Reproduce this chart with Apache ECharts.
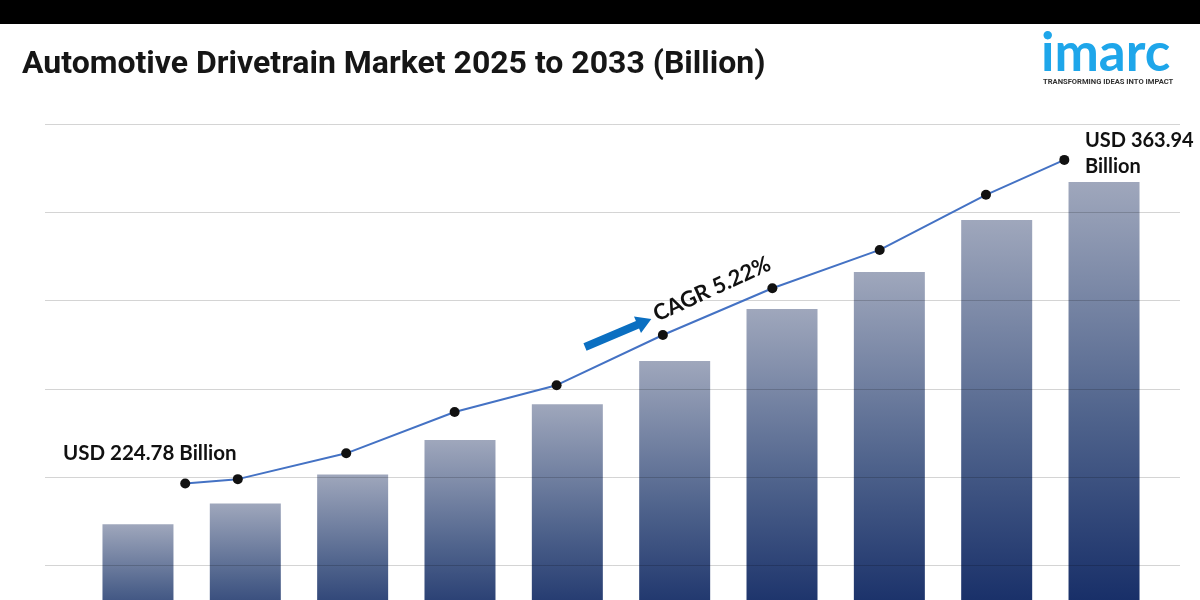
<!DOCTYPE html>
<html>
<head>
<meta charset="utf-8">
<script src="https://cdn.jsdelivr.net/npm/echarts@6/dist/echarts.min.js"></script>
<style>
html, body { margin: 0; padding: 0; background: #fff; }
#chart { width: 1200px; height: 600px; }
</style>
</head>
<body>
<div id="chart"></div>
<script>
// market size by year (billion USD)
const years = ["2024", "2025", "2026", "2027", "2028", "2029", "2030", "2031", "2032", "2033"];
const barValues = [224.78, 233.2, 245.0, 259.0, 273.6, 291.1, 312.3, 327.3, 348.5, 363.94];

// trend line drawn above the bars (x in year-index units)
const lineX = [0.44, 0.93, 1.94, 2.95, 3.9, 4.89, 5.91, 6.91, 7.9, 8.63];
const lineValues = [241.3, 243.1, 253.6, 270.4, 281.3, 301.7, 320.7, 336.3, 358.7, 372.9];

const startLabel = "USD 224.78 Billion";
const endLabel = ["USD 363.94", "Billion"];
const cagrLabel = "CAGR 5.22%";

let myChart = echarts.init(document.getElementById("chart"));

const lineData = lineX.map((x, i) => [x, lineValues[i]]);

var option = {
  backgroundColor: "#fff",
  animation: false,
  grid: [
    // grid lines only
    { left: 45, right: 20, top: 124, bottom: -54, outerBoundsMode: "none" },
    // bars + trend line
    { left: 84.3, right: 42.3, top: 124, bottom: -54, outerBoundsMode: "none" }
  ],
  xAxis: [
    { gridIndex: 0, type: "value", min: 0, max: 1, show: false },
    {
      gridIndex: 1,
      type: "category",
      data: years,
      show: false
    },
    { gridIndex: 1, type: "value", min: -0.5, max: 9.5, show: false }
  ],
  yAxis: [
    {
      gridIndex: 0,
      type: "value",
      min: 0,
      max: 6,
      interval: 1,
      z: 3,
      axisLine: { show: false },
      axisTick: { show: false },
      axisLabel: { show: false },
      splitLine: { show: true, lineStyle: { color: "rgba(0,0,0,0.17)", width: 1 } }
    },
    {
      gridIndex: 1,
      type: "value",
      min: 172,
      max: 387.5,
      show: false,
      splitLine: { show: false }
    }
  ],
  series: [
    {
      type: "bar",
      xAxisIndex: 1,
      yAxisIndex: 1,
      barWidth: 71,
      z: 2,
      itemStyle: {
        color: new echarts.graphic.LinearGradient(0, 0, 0, 1, [
          { offset: 0, color: "#9fa7bc" },
          { offset: 0.5, color: "#4f638c" },
          { offset: 1, color: "#08205e" }
        ])
      },
      data: barValues
    },
    {
      type: "line",
      xAxisIndex: 2,
      yAxisIndex: 1,
      z: 5,
      symbol: "circle",
      symbolSize: 10,
      lineStyle: { color: "#4472c4", width: 2 },
      itemStyle: { color: "#111" },
      data: lineData
    }
  ],
  graphic: [
    { type: "rect", left: 0, top: 0, shape: { width: 1200, height: 24 }, style: { fill: "#000" } },
    {
      type: "text",
      x: 22,
      y: 65,
      style: {
        text: "Automotive Drivetrain Market 2025 to 2033 (Billion)",
        font: "bold 32px Roboto",
        fill: "#161616",
        verticalAlign: "middle"
      }
    },
    {
      type: "text",
      x: 1041,
      y: 80,
      style: {
        text: "imarc",
        font: "bold 53px Lato",
        fill: "#1ea6ea",
        verticalAlign: "bottom"
      }
    },
    {
      type: "text",
      x: 1043,
      y: 82,
      style: {
        text: "TRANSFORMING IDEAS INTO IMPACT",
        font: "bold 7.6px Roboto",
        fill: "#333",
        verticalAlign: "middle"
      }
    },
    {
      type: "text",
      x: 63,
      y: 453,
      z: 10,
      style: { text: startLabel, font: "bold 20.5px Lato", fill: "#111", verticalAlign: "middle" }
    },
    {
      type: "text",
      x: 1085,
      y: 141,
      z: 10,
      style: { text: endLabel[0], font: "bold 20px Lato", fill: "#111", verticalAlign: "middle" }
    },
    {
      type: "text",
      x: 1085,
      y: 167,
      z: 10,
      style: { text: endLabel[1], font: "bold 20px Lato", fill: "#111", verticalAlign: "middle" }
    },
    {
      type: "text",
      x: 712,
      y: 289,
      rotation: 0.429,
      z: 10,
      style: {
        text: cagrLabel,
        font: "bold 22px Lato",
        fill: "#111",
        align: "center",
        verticalAlign: "middle"
      }
    },
    {
      type: "polygon",
      x: 585,
      y: 347,
      rotation: 0.40,
      z: 10,
      shape: {
        points: [[0, -4], [57, -4], [57, -9], [72, 0], [57, 9], [57, 4], [0, 4]]
      },
      style: { fill: "#0b6fc1" }
    }
  ]
};

myChart.setOption(option);
window.onresize = myChart.resize;
</script>
</body>
</html>
